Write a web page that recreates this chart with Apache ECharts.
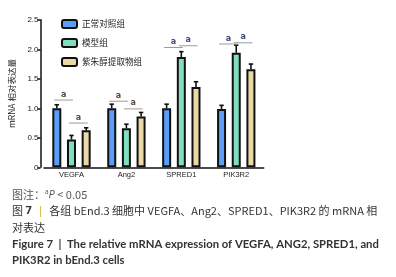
<!DOCTYPE html>
<html><head><meta charset="utf-8">
<script src="https://cdn.jsdelivr.net/npm/echarts@6/dist/echarts.min.js"></script>
<style>html,body{margin:0;padding:0;background:#fff}#c{width:396px;height:277px}</style>
</head><body><div id="c"></div>
<script>
var categories = ['VEGFA', 'Ang2', 'SPRED1', 'PIK3R2'];
var seriesNames = ['正常对照组', '模型组', '紫朱醇提取物组'];
var normalVals = [1.0, 1.0, 1.0, 0.99];
var modelVals = [0.47, 0.66, 1.87, 1.94];
var extractVals = [0.63, 0.86, 1.36, 1.66];
var normalErr = [0.06, 0.07, 0.07, 0.06];
var modelErr = [0.07, 0.07, 0.09, 0.13];
var extractErr = [0.04, 0.07, 0.09, 0.09];
// significance marks: [category, height, fromBar, toBar]
var sigMarks = [[0, 1.14, 0, 1], [0, 0.75, 1, 2], [1, 1.12, 0, 1], [1, 0.99, 1, 2],
                [2, 2.03, 0, 1], [2, 2.06, 1, 2], [3, 2.09, 0, 1], [3, 2.11, 1, 2]];
var yTicks = ['0', '0.5', '1.0', '1.5', '2.0', '2.5'];

var colors = ['#5a9ef5', '#80dfc2', '#e8d9a6'];
var vals = [normalVals, modelVals, extractVals];
var errs = [normalErr, modelErr, extractErr];
var STEP = 14.7;

var chart = echarts.init(document.getElementById('c'));
var series = [];
vals.forEach(function (v, k) {
  series.push({
    name: seriesNames[k], type: 'bar', data: v, barWidth: 9, barGap: '63%',
    itemStyle: { color: colors[k], borderColor: '#111', borderWidth: 2 }
  });
});
var errData = [];
errs.forEach(function (e, k) {
  e.forEach(function (d, i) { errData.push([i, vals[k][i], vals[k][i] + d, k]); });
});
series.push({
  type: 'custom', data: errData, z: 1, silent: true,
  renderItem: function (params, api) {
    var k = api.value(3);
    var p0 = api.coord([api.value(0), api.value(1)]);
    var p1 = api.coord([api.value(0), api.value(2)]);
    var x = p0[0] + (k - 1) * STEP;
    return { type: 'group', children: [
      { type: 'line', shape: { x1: x, y1: p0[1], x2: x, y2: p1[1] }, style: { stroke: '#111', lineWidth: 1.6 } },
      { type: 'line', shape: { x1: x - 2.2, y1: p1[1], x2: x + 2.2, y2: p1[1] }, style: { stroke: '#111', lineWidth: 1.6 } }
    ]};
  }
});
series.push({
  type: 'custom', data: sigMarks, silent: true,
  renderItem: function (params, api) {
    var p = api.coord([api.value(0), api.value(1)]);
    var a = api.value(2), b = api.value(3);
    var x1 = p[0] + (a - 1) * STEP - 2.5, x2 = p[0] + (b - 1) * STEP + 1.5;
    var col = api.value(0) < 2 ? '#5a4a3a' : '#3a4a7a';
    return { type: 'group', children: [
      { type: 'line', shape: { x1: x1, y1: p[1], x2: x2, y2: p[1] }, style: { stroke: '#9a9a9a', lineWidth: 1 } },
      { type: 'text', x: (x1 + x2) / 2, y: p[1] - 1.5, style: { text: 'a', fill: col, font: 'bold 8px "DejaVu Sans"', textAlign: 'center', textVerticalAlign: 'bottom' } }
    ]};
  }
});

chart.setOption({
  animation: false,
  grid: { left: 43.5, right: 132.3, top: 19.8, bottom: 109.7 },
  legend: {
    data: seriesNames, orient: 'vertical', left: 56, top: 14, itemWidth: 15, itemHeight: 8, itemGap: 9,
    textStyle: { fontSize: 8.6, color: '#222', fontFamily: 'Noto Sans CJK SC', padding: [0, 0, 0, 0] }
  },
  xAxis: {
    type: 'category', data: categories,
    axisLine: { lineStyle: { color: '#111', width: 1.5 } },
    axisTick: { alignWithLabel: true, length: 4, lineStyle: { color: '#111', width: 1.5 } },
    axisLabel: { fontSize: 7.5, color: '#222', margin: 4, fontFamily: 'Liberation Sans' }
  },
  yAxis: {
    type: 'value', min: 0, max: 2.5, interval: 0.5, offset: 3.5,
    name: 'mRNA 相对表达量', nameLocation: 'middle', nameGap: 16, nameRotate: 90,
    nameTextStyle: { fontSize: 8.5, color: '#222', fontFamily: 'Noto Sans CJK SC' },
    axisLine: { show: true, lineStyle: { color: '#111', width: 1.5 } },
    axisTick: { show: true, length: 3, lineStyle: { color: '#111', width: 1.5 } },
    splitLine: { show: false },
    axisLabel: { fontSize: 8, color: '#222', margin: 2, fontFamily: 'Liberation Sans',
      formatter: function (v) { return yTicks[Math.round(v / 0.5)]; } }
  },
  graphic: [
    { type: 'text', left: 12, top: 189, style: {
      text: '{c|图注：}{s|a}{i|P}{c| < 0.05}',
      rich: { c: { fontSize: 11, fill: '#555', fontFamily: 'Noto Sans CJK SC' },
              s: { fontSize: 6.5, fill: '#555', verticalAlign: 'top', fontFamily: 'Open Sans', padding: [0, 0, 5, 0] },
              i: { fontSize: 11, fill: '#555', fontStyle: 'italic', fontFamily: 'Open Sans' } } } },
    { type: 'text', left: 12, top: 205.5, style: {
      text: '{c|图 }{b|7}{y|  |  }{c|各组 bEnd.3 细胞中 VEGFA、Ang2、SPRED1、PIK3R2 的 mRNA 相}',
      rich: { c: { fontSize: 11, fill: '#333', fontFamily: 'Noto Sans CJK SC' },
              b: { fontSize: 11, fill: '#333', fontWeight: 'bold', fontFamily: 'Open Sans' },
              y: { fontSize: 11, fill: '#d9a520', fontFamily: 'Open Sans' } } } },
    { type: 'text', left: 12, top: 222, style: { text: '对表达', fontSize: 11, fill: '#333', fontFamily: 'Noto Sans CJK SC' } },
    { type: 'text', left: 12, top: 238.5, style: {
      text: 'Figure 7  |  The relative mRNA expression of VEGFA, ANG2, SPRED1, and',
      fontSize: 11.3, fontWeight: 'bold', fill: '#333', fontFamily: 'Lato' } },
    { type: 'text', left: 12, top: 254.5, style: {
      text: 'PIK3R2 in bEnd.3 cells', fontSize: 11.3, fontWeight: 'bold', fill: '#333', fontFamily: 'Lato' } }
  ],
  series: series
});
</script></body></html>
